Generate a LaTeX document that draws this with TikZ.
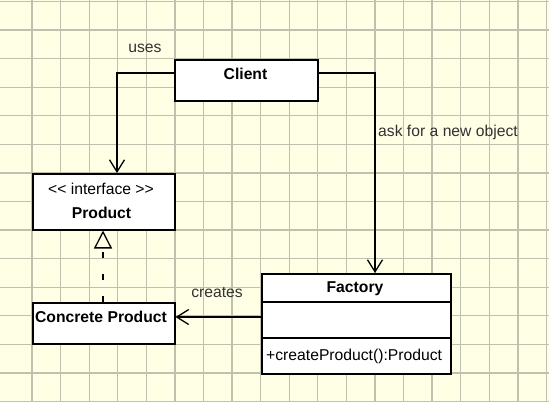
\documentclass[tikz,border=0pt]{standalone}
\usepackage{fontspec}
\setmainfont{Liberation Sans}
\usetikzlibrary{arrows.meta}
\definecolor{bgc}{RGB}{255,255,230}
\definecolor{gridc}{RGB}{192,192,174}
\definecolor{labc}{RGB}{50,50,50}
\begin{document}
\begin{tikzpicture}[x=1pt,y=-1pt,
  box/.style={draw=black, line width=1.5pt, fill=white, inner sep=0pt, anchor=north west},
  txt/.style={inner sep=0pt, font=\fontsize{15.7}{18}\selectfont},
  btxt/.style={inner sep=0pt, font=\fontsize{15.7}{18}\selectfont\bfseries},
  lab/.style={txt, text=labc},
  conn/.style={line width=1.3pt, -{Straight Barb[length=12pt,width=15pt,line width=1.3pt]}},
  real/.style={line width=1.3pt, dash pattern=on 6pt off 16pt, -{Triangle[open, length=18pt, width=18pt, line width=1.3pt]}},
  gridline/.style={gridc, line width=1.3pt}
  ]
\useasboundingbox (0,0) rectangle (549,402);
\fill[bgc] (0,0) rectangle (549,402);
\foreach \k in {0,...,18} \draw[gridline] ({32+28.58*\k},0) -- ({32+28.58*\k},402);
\foreach \k in {-1,...,13} \draw[gridline] (0,{30+28.58*\k}) -- (549,{30+28.58*\k});

% boxes
\node[box, minimum width=143pt, minimum height=41pt] (client) at (174,59) {};
\node[box, minimum width=142pt, minimum height=56pt] (product) at (32,173) {};
\node[box, minimum width=142pt, minimum height=41pt] (concrete) at (32,302) {};
\node[box, minimum width=189pt, minimum height=100pt] (factory) at (261,273) {};
\draw[line width=1.5pt] (factory.west |- 0,302) -- (factory.east |- 0,302);
\draw[line width=1.5pt] (factory.west |- 0,338) -- (factory.east |- 0,338);

% texts
\node[btxt] (clientname) at (245.5,74) {Client};
\node[txt] (stereo) at (101,189) {<\kern0pt< interface >\kern0pt>};
\node[btxt] (productname) at (101.5,213) {Product};
\node[btxt] (concname) at (101,317) {Concrete Product};
\node[btxt] (factoryname) at (355,289) {Factory};
\node[txt, anchor=west] (method) at (266,356) {+createProduct():Product};
\node[lab] (uses) at (145,48) {uses};
\node[lab, anchor=west] (ask) at (378,132) {ask for a new object};
\node[lab] (creates) at (217,292) {creates};

% connectors
\coordinate (c1) at (117,73);
\coordinate (c2) at (375,73);
\coordinate (r1) at (103,0);
\draw[conn] (client.west |- c1) -- (c1) -- (product.north -| c1);
\draw[conn] (client.east |- c2) -- (c2) -- (factory.north -| c2);
\draw[conn] (factory.west |- 0,317) -- (concrete.east |- 0,317);
\draw[real] (concrete.north -| r1) -- (product.south -| r1);
\end{tikzpicture}
\end{document}
